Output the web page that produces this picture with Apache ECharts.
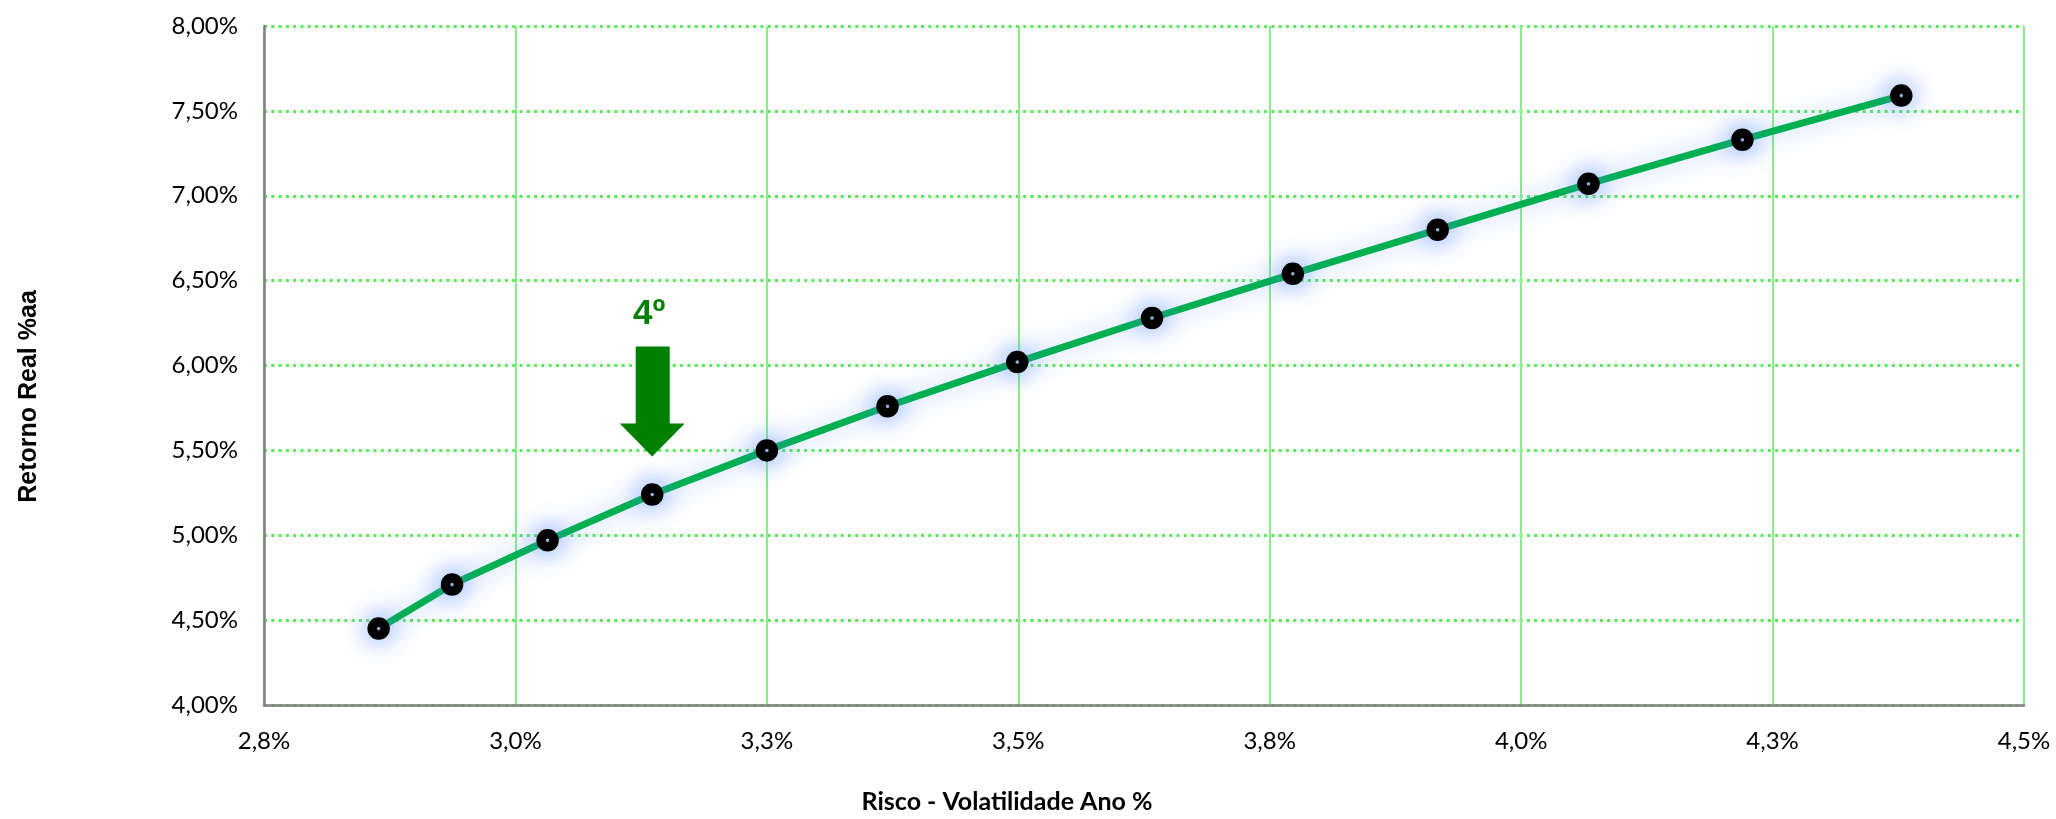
<!DOCTYPE html>
<html>
<head>
<meta charset="utf-8">
<script src="https://cdn.jsdelivr.net/npm/echarts@6/dist/echarts.min.js"></script>
<style>
html,body{margin:0;padding:0;background:#fff;}
#chart{width:2056px;height:819px;}
</style>
</head>
<body>
<div id="chart"></div>
<script>
// Data
const riskX = [2.864, 2.937, 3.032, 3.136, 3.250, 3.370, 3.499, 3.633, 3.773, 3.917, 4.067, 4.220, 4.378];
const returnY = [4.45, 4.71, 4.97, 5.24, 5.50, 5.76, 6.02, 6.28, 6.54, 6.80, 7.07, 7.33, 7.59];
const xTickLabels = ['2,8%', '3,0%', '3,3%', '3,5%', '3,8%', '4,0%', '4,3%', '4,5%'];
const yTickLabels = ['4,00%', '4,50%', '5,00%', '5,50%', '6,00%', '6,50%', '7,00%', '7,50%', '8,00%'];
const highlightIndex = 3;
const highlightLabel = '4º';
const xName = 'Risco - Volatilidade Ano %';
const yName = 'Retorno Real %aa';

const xMin = 2.75, xMax = 4.5, xStep = 0.25;
const yMin = 4.0, yMax = 8.0, yStep = 0.5;

const points = riskX.map((x, i) => [x, returnY[i]]);
const hp = points[highlightIndex];

const chart = echarts.init(document.getElementById('chart'), null, {renderer: 'canvas'});
chart.setOption({
  animation: false,
  backgroundColor: '#ffffff',
  grid: {left: 264, right: 32, top: 26, bottom: 110, containLabel: false},
  xAxis: {
    type: 'value',
    min: xMin, max: xMax, interval: xStep,
    name: xName,
    nameLocation: 'middle',
    nameGap: 84,
    nameTextStyle: {fontFamily: 'Lato', fontWeight: 'bold', fontSize: 25, color: '#000', padding: [0, 274, 0, 0]},
    axisLine: {show: true, lineStyle: {color: '#808080', width: 2.5}},
    axisTick: {show: false},
    axisLabel: {
      margin: 24, fontFamily: 'Lato', fontSize: 24, color: '#000',
      formatter: v => xTickLabels[Math.round((v - xMin) / xStep)] || ''
    },
    splitLine: {show: true, lineStyle: {color: '#88ee88', width: 2, type: 'solid'}}
  },
  yAxis: {
    type: 'value',
    min: yMin, max: yMax, interval: yStep,
    name: yName,
    nameLocation: 'middle',
    nameGap: 222,
    nameRotate: 90,
    nameTextStyle: {fontFamily: 'Liberation Sans', fontWeight: 'bold', fontSize: 25, color: '#000', padding: [0, 62, 0, 0]},
    axisLine: {show: true, lineStyle: {color: '#808080', width: 2.5}},
    axisTick: {show: false},
    axisLabel: {
      margin: 26, fontFamily: 'Lato', fontSize: 24, color: '#000',
      formatter: v => yTickLabels[Math.round((v - yMin) / yStep)] || ''
    },
    splitLine: {show: true, lineStyle: {color: '#55ec55', width: 3, type: [3, 4.3]}}
  },
  series: [{
    type: 'line',
    data: points,
    clip: false,
    smooth: false,
    symbol: 'circle',
    symbolSize: 13,
    lineStyle: {color: '#00b050', width: 7, shadowColor: 'rgba(110,160,255,0.6)', shadowBlur: 26},
    itemStyle: {color: '#a9b8cc', borderColor: '#000000', borderWidth: 9.5, shadowColor: 'rgba(90,140,255,0.75)', shadowBlur: 26},
    emphasis: {disabled: true},
    markPoint: {
      silent: true,
      animation: false,
      data: [
        {
          coord: hp,
          symbol: 'path://M16,0L50,0L50,77L65,77L32.5,110L0,77L16,77Z',
          symbolSize: [65, 110],
          symbolKeepAspect: false,
          symbolOffset: [0, -93],
          itemStyle: {color: '#008000', borderWidth: 0, shadowBlur: 0, shadowColor: 'transparent'},
          label: {show: false}
        },
        {
          coord: hp,
          symbol: 'rect',
          symbolSize: 1,
          itemStyle: {color: 'rgba(0,0,0,0)', borderWidth: 0, shadowBlur: 0, shadowColor: 'transparent'},
          label: {
            show: true, position: 'inside', offset: [-3, -180],
            formatter: highlightLabel,
            fontFamily: 'Liberation Sans', fontWeight: 'bold', fontSize: 35, color: '#008000'
          }
        }
      ]
    }
  }]
});
</script>
</body>
</html>
